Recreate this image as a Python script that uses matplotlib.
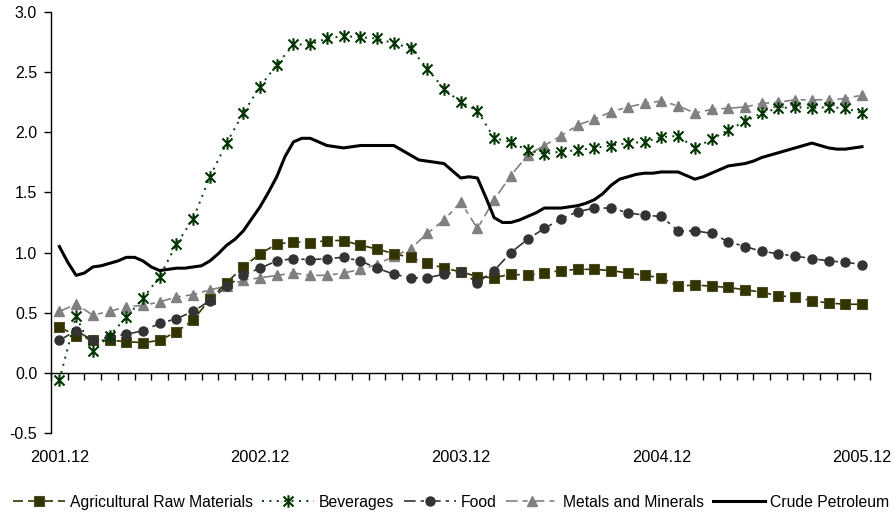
import numpy as np
import matplotlib.pyplot as plt
from matplotlib.path import Path

plt.rcParams['font.family'] = ['Liberation Sans', 'DejaVu Sans']
plt.rcParams['axes.unicode_minus'] = False

# monthly index: 0 = 2001.12 ... 48 = 2005.12
TICK_LABELS = ["2001.12", "2002.12", "2003.12", "2004.12", "2005.12"]
TICK_POS = [0, 12, 24, 36, 48]

agri = [0.38, 0.31, 0.27, 0.27, 0.26, 0.25, 0.27, 0.34, 0.44, 0.61,
        0.75, 0.88, 0.99, 1.07, 1.09, 1.08, 1.10, 1.10, 1.06, 1.03,
        0.99, 0.96, 0.91, 0.87, 0.84, 0.80, 0.79, 0.82, 0.81, 0.83,
        0.85, 0.86, 0.86, 0.85, 0.83, 0.81, 0.79, 0.72, 0.73, 0.72,
        0.71, 0.69, 0.67, 0.64, 0.63, 0.60, 0.58, 0.57, 0.57]

beverages = [-0.06, 0.47, 0.18, 0.31, 0.46, 0.62, 0.80, 1.07, 1.28, 1.63,
             1.91, 2.16, 2.38, 2.56, 2.73, 2.73, 2.78, 2.80, 2.79, 2.78,
             2.74, 2.70, 2.53, 2.36, 2.25, 2.18, 1.95, 1.92, 1.85, 1.82,
             1.84, 1.85, 1.87, 1.89, 1.91, 1.92, 1.96, 1.97, 1.87, 1.94,
             2.02, 2.09, 2.16, 2.20, 2.21, 2.20, 2.21, 2.20, 2.16]

food = [0.27, 0.35, 0.27, 0.30, 0.32, 0.35, 0.41, 0.45, 0.51, 0.60,
        0.72, 0.81, 0.87, 0.93, 0.95, 0.94, 0.95, 0.96, 0.93, 0.87,
        0.82, 0.79, 0.79, 0.82, 0.84, 0.75, 0.85, 1.00, 1.11, 1.20,
        1.28, 1.34, 1.37, 1.37, 1.33, 1.31, 1.30, 1.18, 1.18, 1.16,
        1.09, 1.05, 1.01, 0.99, 0.97, 0.95, 0.93, 0.92, 0.90]

metals = [0.51, 0.57, 0.48, 0.51, 0.55, 0.56, 0.59, 0.63, 0.65, 0.69,
          0.72, 0.77, 0.79, 0.81, 0.83, 0.81, 0.81, 0.83, 0.86, 0.90,
          0.97, 1.03, 1.16, 1.27, 1.42, 1.20, 1.44, 1.64, 1.81, 1.89,
          1.97, 2.06, 2.11, 2.17, 2.21, 2.24, 2.26, 2.22, 2.16, 2.19,
          2.20, 2.21, 2.24, 2.25, 2.27, 2.27, 2.27, 2.28, 2.31]

# crude petroleum is drawn at half-month resolution
crude = [1.05, 0.92, 0.81, 0.83, 0.88, 0.89, 0.91, 0.93, 0.96, 0.96,
         0.93, 0.88, 0.85, 0.86, 0.87, 0.87, 0.88, 0.89, 0.93, 0.99,
         1.06, 1.11, 1.18, 1.28, 1.38, 1.50, 1.63, 1.80, 1.92, 1.95,
         1.95, 1.92, 1.89, 1.88, 1.87, 1.88, 1.89, 1.89, 1.89, 1.89,
         1.89, 1.85, 1.81, 1.77, 1.76, 1.75, 1.74, 1.68, 1.62, 1.63,
         1.62, 1.46, 1.29, 1.25, 1.25, 1.27, 1.30, 1.33, 1.37, 1.37,
         1.37, 1.38, 1.39, 1.41, 1.44, 1.49, 1.56, 1.61, 1.63, 1.65,
         1.66, 1.66, 1.67, 1.67, 1.67, 1.64, 1.61, 1.63, 1.66, 1.69,
         1.72, 1.73, 1.74, 1.76, 1.79, 1.81, 1.83, 1.85, 1.87, 1.89,
         1.91, 1.89, 1.87, 1.86, 1.86, 1.87, 1.88]

x = np.arange(len(agri))
x_crude = np.arange(len(crude)) / 2.0

# Excel-style "x with a vertical bar" marker
star = Path([(-0.8, -0.8), (0.8, 0.8), (-0.8, 0.8), (0.8, -0.8), (0, -1), (0, 1)],
            [Path.MOVETO, Path.LINETO, Path.MOVETO, Path.LINETO, Path.MOVETO, Path.LINETO])

fig = plt.figure(figsize=(8.95, 5.16), dpi=100)
ax = fig.add_axes([0.057, 0.161, 0.9155, 0.8157])

ax.plot(x, agri, color="#333300", lw=1.2, dashes=(6, 3),
        marker="s", ms=7, mfc="#333300", mec="#4d4d26", mew=0.8,
        label="Agricultural Raw Materials", zorder=3)
ax.plot(x, beverages, color="#004000", lw=1.4, dashes=(1, 2.8),
        marker=star, ms=9, mew=1.5, mec="#003300", mfc="none",
        label="Beverages", zorder=4)
ax.plot(x, food, color="#333333", lw=1.2, dashes=(7, 3, 2, 3),
        marker="o", ms=6.5, mfc="#333333", mec="#333333",
        label="Food", zorder=3)
ax.plot(x, metals, color="#808080", lw=1.2, dashes=(7, 3, 3, 3),
        marker="^", ms=7.5, mfc="#808080", mec="#808080",
        label="Metals and Minerals", zorder=2)
ax.plot(x_crude, crude, color="black", lw=2.2, solid_joinstyle="round",
        label="Crude Petroleum", zorder=5)

ax.set_xlim(-0.5, 48.5)
ax.set_ylim(-0.5, 3.0)
ax.set_yticks(np.arange(-0.5, 3.01, 0.5))
ax.set_yticklabels([f"{v:.1f}" for v in np.arange(-0.5, 3.01, 0.5)])
ax.tick_params(axis="y", direction="out", length=5, width=1,
               labelsize=11.5, pad=5)

# category axis crosses at 0, ticks between categories, labels at the bottom
ax.spines["bottom"].set_position(("data", 0))
ax.spines["top"].set_visible(False)
ax.spines["right"].set_visible(False)
ax.spines["left"].set_linewidth(1)
ax.spines["bottom"].set_linewidth(1)
ax.set_xticks(np.arange(-0.5, 48.6, 1.0))
ax.set_xticklabels([])
ax.tick_params(axis="x", direction="out", length=5, width=1)

for pos, lab in zip(TICK_POS, TICK_LABELS):
    ax.text(pos, -0.059, lab, transform=ax.get_xaxis_transform(),
            ha="center", va="center", fontsize=11.8)

fig.legend(loc="center", bbox_to_anchor=(0.504, 0.027), ncol=5,
           frameon=False, fontsize=11.3, handlelength=3.3,
           handletextpad=0.3, columnspacing=0.62, borderaxespad=0)

fig.savefig("out.png", dpi=100)
